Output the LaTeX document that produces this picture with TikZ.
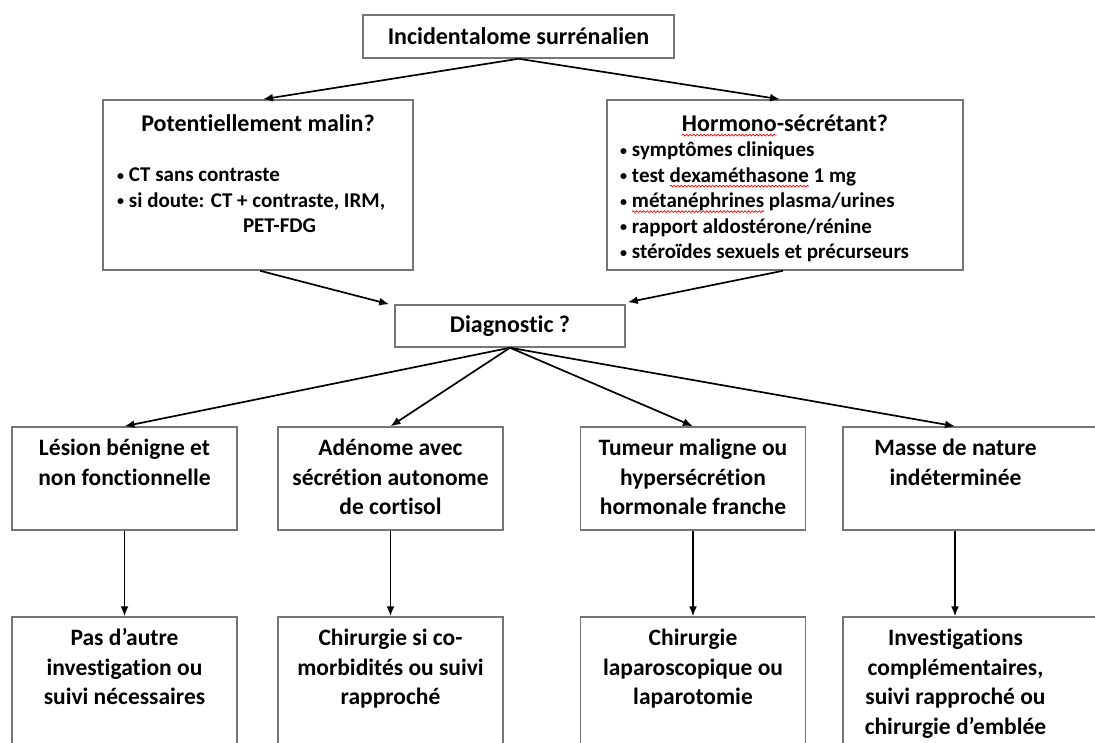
\documentclass[tikz,border=0pt]{standalone}
\usepackage{fontspec}
\setmainfont{Carlito}[Ligatures=NoCommon]
\usetikzlibrary{arrows.meta,decorations.pathmorphing}

\definecolor{boxgray}{RGB}{118,118,118}
% text block of fixed size, set from the top
\newcommand{\cellbox}[4]{\begin{minipage}[t][#2][t]{#1}\vspace*{#3}#4\end{minipage}}
% red spell-check wave under a word
\newcommand{\spellerr}[1]{\setbox0=\hbox{#1}\rlap{\tikz[overlay,baseline=0pt]\draw[red,line width=0.7pt,decorate,decoration={snake,amplitude=0.9pt,segment length=3.5pt}] (0pt,-4pt) -- (\wd0,-4pt);}\box0\relax}
\newcommand{\bul}{\raisebox{1.5pt}{\fontsize{14}{14}\selectfont\textbullet}\hspace{5pt}}

\begin{document}
\begin{tikzpicture}[x=1pt,y=-1pt,
  cell/.style={draw=boxgray,line width=1.5pt,inner sep=0pt,fill=white,
    font=\fontsize{23.5}{29.5}\selectfont\bfseries},
  link/.style={-{Latex[length=10pt,width=8pt]},line width=1.7pt,black}]

\useasboundingbox (0,0) rectangle (1095,742);
\clip (0,0) rectangle (1095,742);

\node[cell,minimum width=311,minimum height=43,font=\fontsize{24}{28}\selectfont\bfseries] (inc) at (518.5,36.5) {Incidentalome surrénalien};

\node[cell] (malin) at (258,185) {\cellbox{310pt}{170pt}{11.5pt}{%
  {\centering\fontsize{24}{28}\selectfont\strut Potentiellement malin?\par}
  \vspace{25pt}
  {\fontsize{21}{25.5}\selectfont\leftskip=14pt
  \bul CT sans contraste\\
  \bul si doute: CT + contraste, IRM,\\
  \hspace*{126pt}PET-FDG\par}}};

\node[cell] (hormo) at (785,185) {\cellbox{356pt}{170pt}{11.5pt}{%
  {\centering\fontsize{24}{28}\selectfont\strut \spellerr{Hormono}-sécrétant?\par}
  {\fontsize{21}{25.5}\selectfont\leftskip=13pt
  \bul symptômes cliniques\\
  \bul test \spellerr{dexaméthasone} 1 mg\\
  \bul \spellerr{métanéphrines} plasma/urines\\
  \bul rapport aldostérone/rénine\\
  \bul stéroïdes sexuels et précurseurs\par}}};

\node[cell,minimum width=230,minimum height=42,font=\fontsize{24}{28}\selectfont\bfseries] (diag) at (510,326) {Diagnostic ?};

% what the diagnosis gives
\node[cell] (benin) at (124.5,478.5) {\cellbox{225pt}{103pt}{8pt}{\centering\strut Lésion bénigne et\\non fonctionnelle}};
\node[cell] (adeno) at (390.5,478.5) {\cellbox{225pt}{103pt}{8pt}{\centering\strut Adénome avec\\sécrétion autonome\\de cortisol}};
\node[cell] (malig) at (693,478.5) {\cellbox{225pt}{103pt}{8pt}{\centering\strut Tumeur maligne ou\\hypersécrétion\\hormonale franche}};
\node[cell] (indet) at (990.5,478.5) {\cellbox{225pt}{103pt}{8pt}{\centering\strut Masse de nature\\indéterminée}\rule{70pt}{0pt}};

% what to do then
\node[cell] (suivi) at (124.5,692) {\cellbox{225pt}{150pt}{8pt}{\centering\strut Pas d’autre\\investigation ou\\suivi nécessaires}};
\node[cell] (chir) at (390.5,692) {\cellbox{225pt}{150pt}{8pt}{\centering\strut Chirurgie si co-\\morbidités ou suivi\\rapproché}};
\node[cell] (lapar) at (693,692) {\cellbox{225pt}{150pt}{8pt}{\centering\strut Chirurgie\\laparoscopique ou\\laparotomie}};
\node[cell] (compl) at (990.5,692) {\cellbox{225pt}{150pt}{8pt}{\centering\strut Investigations\\complémentaires,\\suivi rapproché ou\\chirurgie d’emblée}\rule{70pt}{0pt}};

\draw[link] (inc.south) -- ([xshift=5]malin.north);
\draw[link] (inc.south) -- ([xshift=-5]hormo.north);
\draw[link] ([xshift=2]malin.south) -- ([xshift=-5]diag.north west);
\draw[link] ([xshift=-2]hormo.south) -- ([xshift=2,yshift=2]diag.north east);

\foreach \n in {benin,adeno,malig}
  \draw[link] (diag.south) -- (\n.north);
\draw[link] (diag.south) -- ([xshift=-35.5]indet.north);

\foreach \a/\b in {benin/suivi,adeno/chir,malig/lapar}
  \draw[link] (\a.south) -- (\b.north);
\draw[link] ([xshift=-35.5]indet.south) -- ([xshift=-35.5]compl.north);
%\draw[link] (indet.south) -- (compl.north);

\end{tikzpicture}
\end{document}
